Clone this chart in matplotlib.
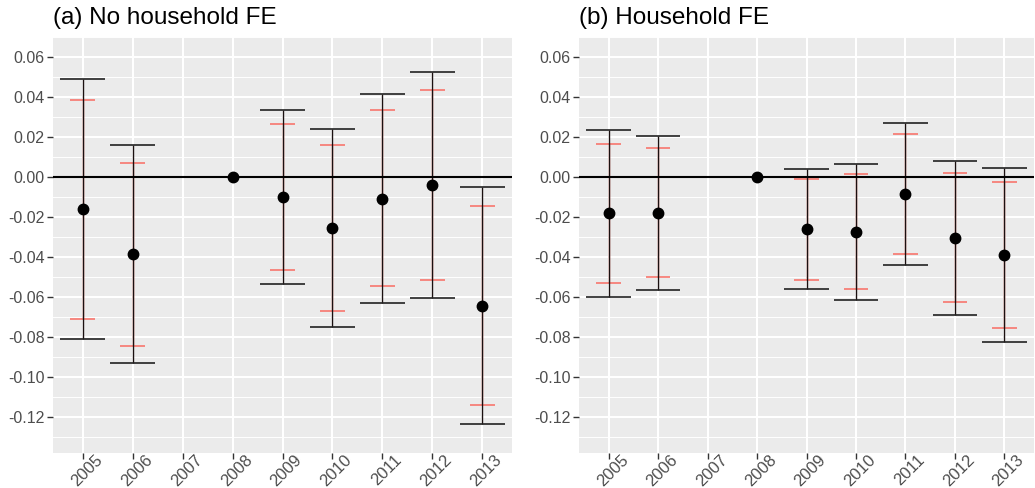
import numpy as np
import matplotlib
matplotlib.use("Agg")
import matplotlib.pyplot as plt
import matplotlib.transforms as mtransforms
from matplotlib.ticker import FixedLocator, FuncFormatter

plt.rcParams['font.family'] = ['Liberation Sans', 'DejaVu Sans']

# event-study estimates, 2007 omitted, 2008 = reference year
years = [2005, 2006, 2007, 2008, 2009, 2010, 2011, 2012, 2013]
nan = np.nan

est_a = [-0.0162, -0.0387, nan, 0.0, -0.0100, -0.0257, -0.0108, -0.0040, -0.0643]
hi95_a = [0.0490, 0.0160, nan, nan, 0.0335, 0.0240, 0.0417, 0.0527, -0.0050]
lo95_a = [-0.0812, -0.0932, nan, nan, -0.0533, -0.0752, -0.0630, -0.0603, -0.1233]
hi90_a = [0.0387, 0.0072, nan, nan, 0.0265, 0.0160, 0.0333, 0.0435, -0.0145]
lo90_a = [-0.0708, -0.0845, nan, nan, -0.0465, -0.0670, -0.0547, -0.0513, -0.1138]

est_b = [-0.0182, -0.0178, nan, 0.0, -0.0262, -0.0275, -0.0085, -0.0303, -0.0390]
hi95_b = [0.0235, 0.0207, nan, nan, 0.0040, 0.0065, 0.0272, 0.0082, 0.0043]
lo95_b = [-0.0598, -0.0563, nan, nan, -0.0562, -0.0613, -0.0440, -0.0688, -0.0823]
hi90_b = [0.0167, 0.0145, nan, nan, -0.0010, 0.0013, 0.0213, 0.0020, -0.0027]
lo90_b = [-0.0530, -0.0502, nan, nan, -0.0515, -0.0558, -0.0385, -0.0625, -0.0753]

titles = ["(a) No household FE", "(b) Household FE"]
yticks = [0.06, 0.04, 0.02, 0.0, -0.02, -0.04, -0.06, -0.08, -0.10, -0.12]

W, H = 1035, 488
fig = plt.figure(figsize=(W / 100, H / 100), dpi=100)
ax_a = fig.add_axes([53 / W, 1 - 453 / H, 459 / W, 416 / H])
ax_b = fig.add_axes([579 / W, 1 - 453 / H, 455 / W, 416 / H])

panels = [
    (ax_a, est_a, lo95_a, hi95_a, lo90_a, hi90_a, titles[0]),
    (ax_b, est_b, lo95_b, hi95_b, lo90_b, hi90_b, titles[1]),
]

x = np.arange(len(years))
shift = mtransforms.ScaledTranslation(4 / 100, 0, fig.dpi_scale_trans)

for ax, est, lo95, hi95, lo90, hi90, title in panels:
    ax.set_facecolor('#EBEBEB')
    for s in ax.spines.values():
        s.set_visible(False)
    ax.set_xlim(-0.6, len(years) - 0.4)
    ax.set_ylim(-0.138, 0.07)

    # grid
    for yv in np.arange(-0.13, 0.075, 0.02):
        ax.axhline(yv, color='white', lw=0.7, zorder=0)
    for yv in yticks:
        ax.axhline(yv, color='white', lw=1.5, zorder=0)
    for xv in x:
        ax.axvline(xv, color='white', lw=1.5, zorder=0)

    # 90% bars (red) underneath, 95% bars (black) on top
    ax.vlines(x, lo90, hi90, color='#F8766D', lw=1.0, zorder=2)
    ax.hlines(hi90, x - 0.25, x + 0.25, color='#F8766D', lw=1.2, zorder=2)
    ax.hlines(lo90, x - 0.25, x + 0.25, color='#F8766D', lw=1.2, zorder=2)
    ax.vlines(x, lo95, hi95, color='#1a1010', lw=1.0, zorder=3)
    ax.hlines(hi95, x - 0.45, x + 0.45, color='#222222', lw=1.2, zorder=3)
    ax.hlines(lo95, x - 0.45, x + 0.45, color='#222222', lw=1.2, zorder=3)

    ax.axhline(0, color='black', lw=1.5, zorder=4)
    ax.plot(x, est, 'o', color='black', ms=7.5, zorder=5)

    ax.yaxis.set_major_locator(FixedLocator(yticks))
    ax.yaxis.set_major_formatter(FuncFormatter(lambda v, p: "%.2f" % v if abs(v) > 1e-9 else "0.00"))
    ax.set_xticks(x)
    ax.set_xticklabels([str(y) for y in years], rotation=45, ha='center', va='center',
                       rotation_mode='anchor')
    ax.tick_params(axis='both', length=4, width=1.0, color='#333333',
                   labelcolor='#4D4D4D', labelsize=11.5)
    ax.tick_params(axis='y', pad=2)
    ax.tick_params(axis='x', pad=8.5, labelsize=12)
    for lab in ax.get_xticklabels():
        lab.set_transform(lab.get_transform() + shift)

    pos = ax.get_position()
    fig.text(pos.x0, 1 - 24 / H, title, fontsize=17.5, color='black',
             ha='left', va='baseline')

fig.savefig('out.png', dpi=100)
